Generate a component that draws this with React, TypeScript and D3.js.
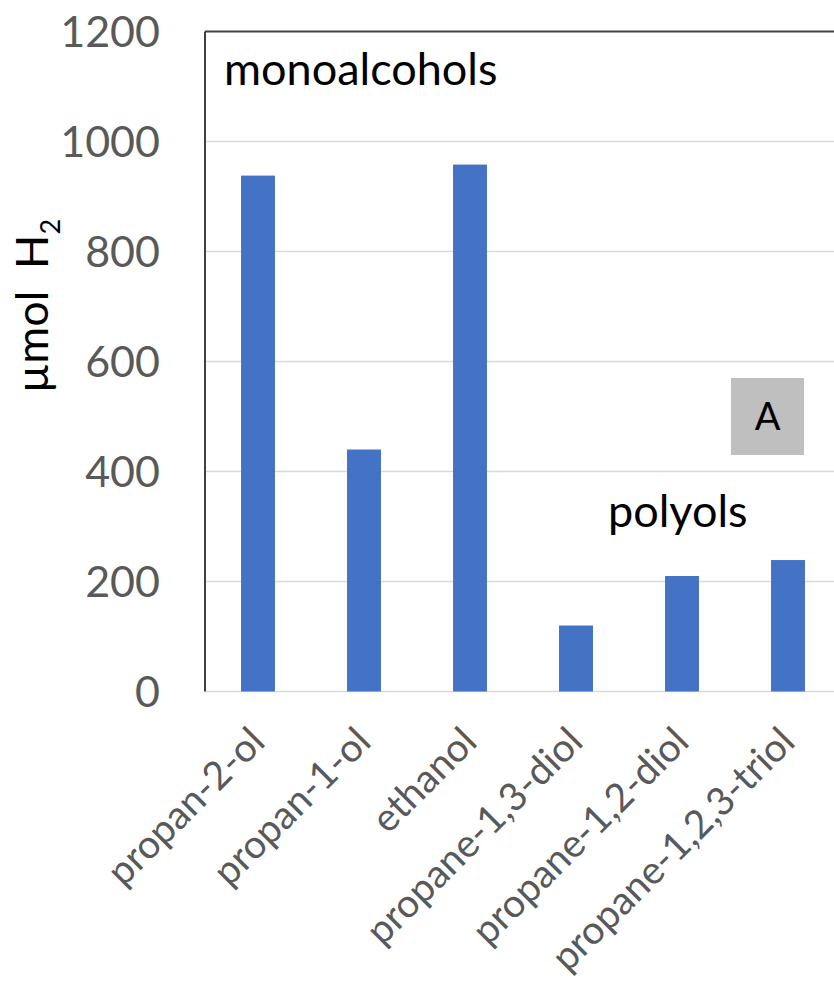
import React from "react";
import * as d3 from "d3";

const categories = ["propan-2-ol", "propan-1-ol", "ethanol", "propane-1,3-diol", "propane-1,2-diol", "propane-1,2,3-triol"];
const values = [938, 440, 958, 120, 210, 239];
const yTicks = [0, 200, 400, 600, 800, 1000, 1200];

const W = 834;
const H = 983;
const FONT = "Lato, 'Open Sans', sans-serif";

export default function App() {
  const left = 205;
  const top = 31.5;
  const bottom = 691.5;
  const x = d3.scaleBand<string>().domain(categories).range([left, left + 6 * 106]).paddingInner(0.68).paddingOuter(0.34);
  const y = d3.scaleLinear().domain([0, 1200]).range([bottom, top]);

  return (
    <div style={{ position: "absolute", left: 0, top: 0 }}>
      <svg width={W} height={H} style={{ display: "block", background: "#fff" }}>
        {yTicks.filter(t => t > 0 && t < 1200).map(t => (
          <line key={t} x1={left} x2={W} y1={y(t)} y2={y(t)} stroke="#d9d9d9" strokeWidth={1.5} />
        ))}
        <line x1={left} x2={W} y1={y(0)} y2={y(0)} stroke="#d9d9d9" strokeWidth={1.5} />
        {categories.map((c, i) => (
          <rect key={c} x={x(c)} width={x.bandwidth()} y={y(values[i])} height={y(0) - y(values[i])} fill="#4472c4" />
        ))}
        <line x1={left} x2={left} y1={top} y2={bottom} stroke="#404040" strokeWidth={2} />
        <line x1={left} x2={W} y1={top} y2={top} stroke="#404040" strokeWidth={2} />
        {yTicks.map(t => (
          <text key={t} x={160} y={y(t)} dy="0.36em" textAnchor="end" fontFamily={FONT} fontSize={43} fill="#595959">{t}</text>
        ))}
        {categories.map(c => {
          const cx = (x(c) as number) + x.bandwidth() / 2 + 9;
          return (
            <text key={c} transform={`translate(${cx},744) rotate(-45)`} textAnchor="end" fontFamily={FONT} fontSize={39} fill="#595959">{c}</text>
          );
        })}
        <text transform={`translate(48,393) rotate(-90)`} textAnchor="start" fontFamily={FONT} fontSize={45} fill="#000">
          µmol<tspan dx="22">H</tspan><tspan fontSize={27} dy="12">2</tspan>
        </text>
        <text x={224} y={85} fontFamily={FONT} fontSize={45} fill="#000">monoalcohols</text>
        <text x={608} y={527} fontFamily={FONT} fontSize={45} fill="#000">polyols</text>
        <rect x={731} y={378} width={73} height={77} fill="#bfbfbf" />
        <text x={767.5} y={416.5} dy="0.36em" textAnchor="middle" fontFamily={FONT} fontSize={38} fill="#000">A</text>
      </svg>
    </div>
  );
}
